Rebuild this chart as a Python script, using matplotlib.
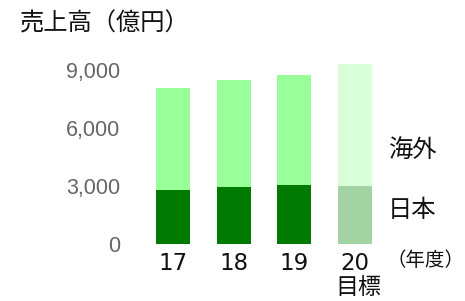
import matplotlib
matplotlib.use("Agg")
import matplotlib.pyplot as plt

years = ["17", "18", "19", "20"]
japan = [2800, 2950, 3050, 3000]
overseas = [5270, 5530, 5690, 6310]
yticks = [0, 3000, 6000, 9000]
ytick_labels = ["0", "3,000", "6,000", "9,000"]

japan_colors = ["#007a00", "#007a00", "#007a00", "#a3d3a3"]
overseas_colors = ["#99ff99", "#99ff99", "#99ff99", "#d9ffd9"]

W, H = 465, 301
fig = plt.figure(figsize=(W / 100, H / 100), dpi=100)
jp = ["Noto Sans CJK JP", "DejaVu Sans"]

def fx(px):
    return px / W

def fy(py):
    return 1 - py / H

ax = fig.add_axes([fx(130), fy(244), fx(380) - fx(130), fy(50) - fy(244)])
x = list(range(len(years)))
ax.bar(x, japan, width=0.56, color=japan_colors, linewidth=0)
ax.bar(x, overseas, bottom=japan, width=0.56, color=overseas_colors, linewidth=0)
ax.set_xlim(-0.708, 3.41)
ax.set_ylim(0, 10040)
for s in ax.spines.values():
    s.set_visible(False)
ax.set_yticks(yticks)
ax.set_yticklabels(ytick_labels, color="#666666", fontsize=15.5, family="Liberation Sans")
ax.tick_params(axis="y", length=0, pad=7)
ax.set_xticks(x)
ax.set_xticklabels(years, fontsize=16.5, family="DejaVu Sans", color="#111111")
ax.tick_params(axis="x", length=0, pad=6)

fig.text(fx(20), fy(24), "売上高（億円）", family=jp, fontsize=17.5, va="center", ha="left", color="#111111")
fig.text(fx(388), fy(150), "海外", family=jp, fontsize=17.5, va="center", ha="left", color="#111111")
fig.text(fx(388), fy(210), "日本", family=jp, fontsize=17.5, va="center", ha="left", color="#111111")
fig.text(fx(386), fy(261), "（年度）", family=jp, fontsize=14, va="center", ha="left", color="#111111")
fig.text(fx(358), fy(288), "目標", family=jp, fontsize=16.5, va="center", ha="center", color="#111111")

fig.savefig("out.png", dpi=100)
